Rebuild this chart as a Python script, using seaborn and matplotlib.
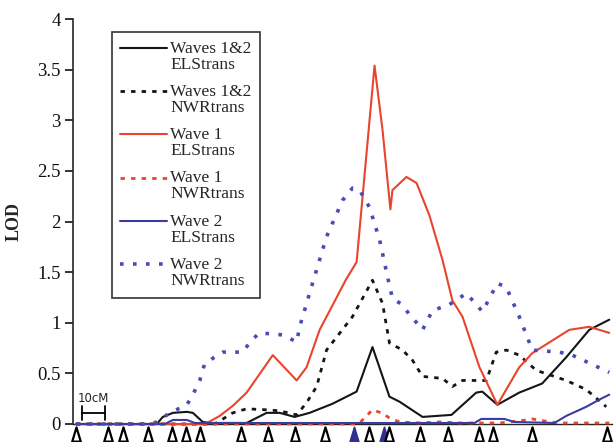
import numpy as np
import pandas as pd
import matplotlib
matplotlib.use("Agg")
import matplotlib.pyplot as plt
import seaborn as sns
from matplotlib.path import Path
from matplotlib.legend_handler import HandlerLine2D

# ---------------- data (positions in cM, LOD values) ----------------
marker_cm = [0, 13.9, 20.4, 31.3, 41.7, 47.8, 53.9, 71.7, 83.5, 95.2, 108.3,
             120.9, 127.8, 134.3, 136.5, 150.0, 162.2, 175.7, 181.7, 198.7, 231.3]
marker_filled = [False, False, False, False, False, False, False, False, False, False, False,
                 True, False, True, False, False, False, False, False, False, False]

w12_els_x = [0, 35.2, 37.8, 42.2, 48.3, 50.9, 55.2, 58.3, 74.3, 83.0, 88.7, 95.2, 101.7,
             111.7, 122.2, 129.1, 136.5, 140.9, 150.9, 163.5, 174.3, 176.9, 183.5, 193.0,
             203.0, 213.5, 223.5, 232.2]
w12_els_y = [0, 0, 0.07, 0.11, 0.12, 0.11, 0.02, 0.01, 0.01, 0.11, 0.11, 0.07, 0.11,
             0.20, 0.32, 0.76, 0.27, 0.22, 0.07, 0.09, 0.31, 0.32, 0.19, 0.31,
             0.40, 0.66, 0.93, 1.03]

w12_nwr_x = [0, 60.4, 68.3, 74.3, 83.0, 88.7, 96.1, 100.4, 104.8, 109.1, 120.4, 129.1,
             133.5, 136.5, 142.2, 146.5, 150.9, 159.6, 163.9, 168.3, 178.7, 183.0, 187.4,
             193.0, 200.4, 213.5, 222.2, 230.9]
w12_nwr_y = [0, 0, 0.11, 0.15, 0.14, 0.13, 0.09, 0.21, 0.37, 0.73, 1.06, 1.42,
             1.19, 0.80, 0.73, 0.63, 0.47, 0.45, 0.37, 0.43, 0.43, 0.71, 0.73,
             0.68, 0.53, 0.43, 0.34, 0.17]

w1_els_x = [0, 53.9, 57.0, 62.6, 68.3, 74.3, 85.7, 96.1, 100.4, 106.1, 113.5, 117.4, 122.2,
            130.0, 133.5, 136.9, 137.8, 143.9, 148.3, 153.9, 159.6, 163.9, 168.3, 175.7,
            183.5, 193.0, 198.7, 214.8, 223.5, 232.2]
w1_els_y = [0, 0, 0.01, 0.08, 0.18, 0.31, 0.68, 0.43, 0.56, 0.93, 1.25, 1.42, 1.60,
            3.54, 2.90, 2.12, 2.31, 2.44, 2.38, 2.06, 1.62, 1.22, 1.06, 0.56,
            0.19, 0.56, 0.70, 0.93, 0.96, 0.90]

w1_nwr_x = [0, 121.3, 123.5, 126.5, 129.1, 133.0, 136.5, 140.9, 149.6, 158.3, 167.0,
            184.3, 193.0, 198.7, 203.9, 210.4, 232.2]
w1_nwr_y = [0, 0, 0.01, 0.08, 0.14, 0.11, 0.06, 0.02, 0.01, 0.02, 0.01,
            0.01, 0.03, 0.05, 0.03, 0.01, 0.01]

w2_els_x = [0, 38.7, 42.2, 48.3, 51.7, 173.5, 176.5, 186.5, 190.9, 208.3, 213.5, 222.2,
            227.8, 232.2]
w2_els_y = [0, 0, 0.04, 0.04, 0.01, 0.01, 0.05, 0.05, 0.02, 0.01, 0.08, 0.17,
            0.24, 0.29]

w2_nwr_x = [0, 32.2, 35.2, 40.9, 48.3, 50.9, 53.9, 56.1, 63.9, 72.6, 76.5, 80.0, 90.0,
            96.1, 97.4, 103.0, 109.1, 116.1, 120.4, 123.5, 127.8, 132.2, 135.7, 137.8,
            141.3, 150.9, 155.2, 162.6, 170.0, 177.0, 183.5, 187.4, 193.0, 198.7, 210.4,
            216.1, 232.2]
w2_nwr_y = [0, 0, 0.02, 0.11, 0.19, 0.29, 0.43, 0.60, 0.71, 0.71, 0.83, 0.90, 0.88,
            0.81, 0.96, 1.39, 1.85, 2.21, 2.33, 2.31, 2.14, 1.82, 1.45, 1.24,
            1.19, 0.93, 1.12, 1.18, 1.29, 1.11, 1.39, 1.35, 1.06, 0.73, 0.71,
            0.68, 0.51]

labels = ["Waves 1&2\nELStrans", "Waves 1&2\nNWRtrans", "Wave 1\nELStrans",
          "Wave 1\nNWRtrans", "Wave 2\nELStrans", "Wave 2\nNWRtrans"]
yticks = [0, 0.5, 1, 1.5, 2, 2.5, 3, 3.5, 4]
ytick_labels = ["0", "0.5", "1", "1.5", "2", "2.5", "3", "3.5", "4"]

# ---------------- styling ----------------
sns.set_style("ticks")
plt.rcParams['font.family'] = ['Liberation Serif', 'DejaVu Serif']

BLACK = "#151515"
RED = "#e8452c"
BLUE = "#3a3ca6"
BLUE_DOT = "#4a4cb4"
NAVY = "#2f3192"

fig = plt.figure(figsize=(6.15, 4.42), dpi=100)
ax = fig.add_axes([73 / 615, 18 / 442, 539 / 615, 405 / 442])

series = [
    (w12_els_x, w12_els_y, BLACK, '-', 1.5, 3),
    (w12_nwr_x, w12_nwr_y, BLACK, (0, (1.6, 2.2)), 2.0, 3),
    (w1_els_x, w1_els_y, RED, '-', 1.5, 4),
    (w1_nwr_x, w1_nwr_y, RED, (0, (1.6, 2.2)), 2.0, 4),
    (w2_els_x, w2_els_y, BLUE, '-', 1.5, 5),
    (w2_nwr_x, w2_nwr_y, BLUE_DOT, (0, (1.0, 2.6)), 2.6, 5),
]

handles = []
for (xs, ys, col, ls, lw, z), lab in zip(series, labels):
    df = pd.DataFrame({"cM": xs, "LOD": ys})
    sns.lineplot(data=df, x="cM", y="LOD", ax=ax, color=col, linestyle=ls,
                 linewidth=lw, sort=False, estimator=None, zorder=z, clip_on=False)
    handles.append(ax.lines[-1])

# marker triangles below the axis
tri = Path([(-0.3, -0.5), (0.3, -0.5), (0.0, 0.5), (-0.3, -0.5)],
           [Path.MOVETO, Path.LINETO, Path.LINETO, Path.CLOSEPOLY])
mdf = pd.DataFrame({"cM": marker_cm, "filled": marker_filled})
mdf["y"] = -0.095
hollow = mdf[~mdf["filled"]]
filled = mdf[mdf["filled"]]
ax.scatter(filled["cM"], filled["y"], marker=tri, s=105, facecolor=NAVY,
           edgecolor=NAVY, linewidth=1.3, clip_on=False, zorder=6)
ax.scatter(hollow["cM"], hollow["y"], marker=tri, s=105, facecolor="white",
           edgecolor="black", linewidth=1.6, clip_on=False, zorder=7)

# 10 cM scale bar
ax.plot([2.6, 12.6], [0.11, 0.11], color="black", lw=1.3, zorder=3)
ax.plot([2.6, 2.6], [0.04, 0.18], color="black", lw=1.3, zorder=3)
ax.plot([12.6, 12.6], [0.04, 0.18], color="black", lw=1.3, zorder=3)
ax.text(7.6, 0.19, "10cM", ha="center", va="bottom", fontsize=8.5,
        family=["DejaVu Sans"], color="#222222")

# axes
ax.set_xlim(-1.3, 233.4)
ax.set_ylim(0, 4)
ax.set_yticks(yticks)
ax.set_yticklabels(ytick_labels, fontsize=13.5)
ax.set_xticks([])
ax.set_xlabel("")
ax.set_ylabel("LOD", fontsize=13, fontweight="bold", labelpad=10)
sns.despine(ax=ax, top=True, right=True)
ax.spines['left'].set_linewidth(1.2)
ax.spines['bottom'].set_linewidth(1.0)
ax.tick_params(axis='y', length=6, width=1.2, direction='out', pad=3, colors='#111111')
ax.tick_params(axis='x', length=0)


class TopHandler(HandlerLine2D):
    def create_artists(self, legend, orig_handle, xdescent, ydescent, width,
                       height, fontsize, trans):
        arts = super().create_artists(legend, orig_handle, xdescent, ydescent,
                                      width, height, fontsize, trans)
        for a in arts:
            yd = np.asarray(a.get_ydata(), dtype=float)
            a.set_ydata(yd + fontsize * 0.5)
        return arts


leg = ax.legend(handles, labels, loc="upper left", bbox_to_anchor=(0.072, 0.968),
                borderaxespad=0, frameon=True, fancybox=False, fontsize=12.5,
                handlelength=2.7, handletextpad=0.15, labelspacing=0.65,
                borderpad=0.5, handler_map={h: TopHandler() for h in handles})
leg.get_frame().set_edgecolor("black")
leg.get_frame().set_linewidth(1.2)
for t in leg.get_texts():
    t.set_linespacing(1.0)

fig.savefig("out.png", dpi=100)
